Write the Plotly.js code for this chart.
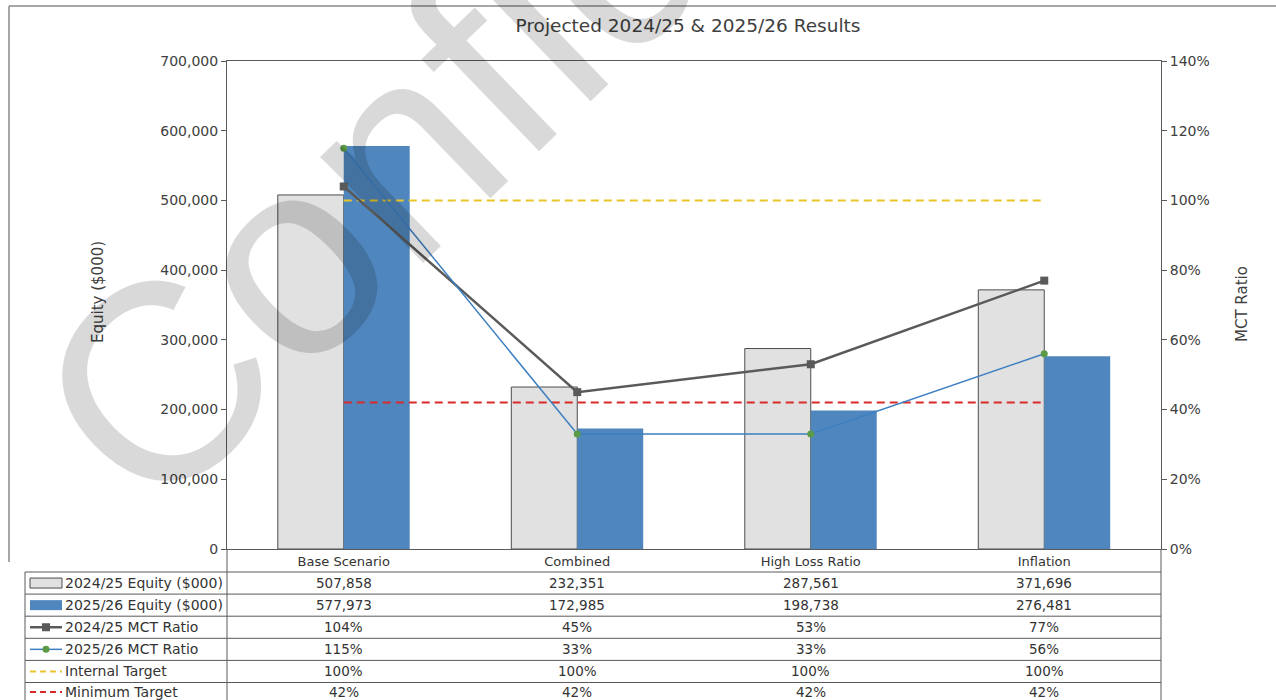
<!DOCTYPE html>
<html>
<head>
<meta charset="utf-8">
<script src="https://cdn.plot.ly/plotly-3.0.1.min.js"></script>
<style>html,body{margin:0;padding:0;background:#fff;}#chart{width:1276px;height:700px;}</style>
</head>
<body>
<div id="chart"></div>
<script>
// ---- data ----
const categories = ['Base Scenario', 'Combined', 'High Loss Ratio', 'Inflation'];
const equity2425 = [507858, 232351, 287561, 371696];
const equity2526 = [577973, 172985, 198738, 276481];
const mct2425 = [1.04, 0.45, 0.53, 0.77];
const mct2526 = [1.15, 0.33, 0.33, 0.56];
const internalTarget = [1.00, 1.00, 1.00, 1.00];
const minimumTarget = [0.42, 0.42, 0.42, 0.42];
const seriesNames = ['2024/25 Equity ($000)', '2025/26 Equity ($000)', '2024/25 MCT Ratio',
                     '2025/26 MCT Ratio', 'Internal Target', 'Minimum Target'];
const chartTitle = 'Projected 2024/25 & 2025/26 Results';
const leftTitle = 'Equity ($000)';
const rightTitle = 'MCT Ratio';
const watermark = 'Confidential';

// ---- layout helpers (pixel -> paper) ----
const W = 1276, H = 700;
const px = x => x / W;
const py = y => 1 - y / H;
const FONT = 'DejaVu Sans, sans-serif';
const TXT = '#404040';
const GRID = '#5a5a5a';

const cGray = '#e1e1e1', cBlue = '#4f86be', cLine1 = '#5a5a5a', cLine2 = '#3d7fc1',
      cMark2 = '#5b9b48', cYel = '#e9c52a', cRed = '#d92b2b';

const traces = [
  {type: 'bar', name: seriesNames[0], x: categories, y: equity2425,
   marker: {color: cGray, line: {color: '#4d4d4d', width: 1}}, yaxis: 'y'},
  {type: 'bar', name: seriesNames[1], x: categories, y: equity2526,
   marker: {color: cBlue, line: {width: 0}}, yaxis: 'y'},
  {type: 'scatter', mode: 'lines', name: seriesNames[4], x: categories, y: internalTarget,
   line: {color: cYel, width: 2, dash: '8px,5px'}, yaxis: 'y2'},
  {type: 'scatter', mode: 'lines', name: seriesNames[5], x: categories, y: minimumTarget,
   line: {color: cRed, width: 2, dash: '8px,5px'}, yaxis: 'y2'},
  {type: 'scatter', mode: 'lines+markers', name: seriesNames[2], x: categories, y: mct2425,
   line: {color: cLine1, width: 2.5}, marker: {symbol: 'square', size: 8, color: cLine1}, yaxis: 'y2'},
  {type: 'scatter', mode: 'lines+markers', name: seriesNames[3], x: categories, y: mct2526,
   line: {color: cLine2, width: 1.5}, marker: {symbol: 'circle', size: 7, color: cMark2}, yaxis: 'y2'}
];

// ---- table rows built from the series ----
const fmtEq = v => v.toLocaleString('en-US');
const fmtPct = v => Math.round(v * 100) + '%';
const tableRows = [
  equity2425.map(fmtEq), equity2526.map(fmtEq), mct2425.map(fmtPct),
  mct2526.map(fmtPct), internalTarget.map(fmtPct), minimumTarget.map(fmtPct)
];
const rowTop = 572, rowH = 22.1;
const rowCenter = i => rowTop + rowH * i + rowH / 2;

const annotations = [];
const shapes = [];

tableRows.forEach((row, i) => {
  const yc = py(rowCenter(i) - (i === 5 ? 1.5 : 0));
  row.forEach((t, j) => {
    annotations.push({xref: 'x', yref: 'paper', x: categories[j], y: yc,
      text: t, showarrow: false, xanchor: 'center', yanchor: 'middle',
      font: {family: FONT, size: 13.5, color: '#333'}});
  });
  annotations.push({xref: 'paper', yref: 'paper', x: px(63), y: yc,
    text: seriesNames[i], showarrow: false, xanchor: 'left', yanchor: 'middle',
    font: {family: FONT, size: 14, color: '#333'}});
});

// table grid
const line = (x0, y0, x1, y1, color, width, dash) => shapes.push({type: 'line', xref: 'paper', yref: 'paper',
  x0: px(x0), y0: py(y0), x1: px(x1), y1: py(y1), line: {color: color || GRID, width: width || 1, dash: dash || 'solid'}});
for (let i = 0; i < 6; i++) line(25, rowTop + rowH * i, 1161, rowTop + rowH * i);
line(25, rowTop, 25, 702);
line(227, 549, 227, 702);
line(1161, 549, 1161, 702);
// outer chart frame (partial)
line(9, 6, 1276, 6, '#8a8a8a', 1.5);
line(9, 6, 9, 562, '#8a8a8a', 1.5);

// legend keys in table
const keyX0 = 30, keyX1 = 62, keyXm = 46;
shapes.push({type: 'rect', xref: 'paper', yref: 'paper', x0: px(keyX0), x1: px(keyX1),
  y0: py(rowCenter(0) - 5), y1: py(rowCenter(0) + 5), fillcolor: cGray, line: {color: '#4d4d4d', width: 1}});
shapes.push({type: 'rect', xref: 'paper', yref: 'paper', x0: px(keyX0), x1: px(keyX1),
  y0: py(rowCenter(1) - 5), y1: py(rowCenter(1) + 5), fillcolor: cBlue, line: {width: 0}});
line(keyX0, rowCenter(2), keyX1, rowCenter(2), cLine1, 2.5);
shapes.push({type: 'rect', xref: 'paper', yref: 'paper', x0: px(keyXm - 4), x1: px(keyXm + 4),
  y0: py(rowCenter(2) - 4), y1: py(rowCenter(2) + 4), fillcolor: cLine1, line: {width: 0}});
line(keyX0, rowCenter(3), keyX1, rowCenter(3), cLine2, 1.5);
shapes.push({type: 'circle', xref: 'paper', yref: 'paper', x0: px(keyXm - 3.5), x1: px(keyXm + 3.5),
  y0: py(rowCenter(3) - 3.5), y1: py(rowCenter(3) + 3.5), fillcolor: cMark2, line: {width: 0}});
line(keyX0, rowCenter(4), keyX1, rowCenter(4), cYel, 2, '6px,4px');
line(keyX0, rowCenter(5) - 1.5, keyX1, rowCenter(5) - 1.5, cRed, 2, '6px,4px');

// axis titles
annotations.push({xref: 'paper', yref: 'paper', x: px(98), y: py(292), text: leftTitle, textangle: -90,
  showarrow: false, xanchor: 'center', yanchor: 'middle', font: {family: FONT, size: 15, color: TXT}});
annotations.push({xref: 'paper', yref: 'paper', x: px(1242), y: py(304), text: rightTitle, textangle: -90,
  showarrow: false, xanchor: 'center', yanchor: 'middle', font: {family: FONT, size: 15, color: TXT}});

// watermark
annotations.push({xref: 'paper', yref: 'paper', x: px(616), y: py(-58), text: watermark, textangle: -44,
  showarrow: false, xanchor: 'center', yanchor: 'middle',
  font: {family: 'Liberation Sans, Arial, sans-serif', size: 280, color: 'rgba(0,0,0,0.15)'}});

const layout = {
  width: W, height: H,
  margin: {l: 0, r: 0, t: 0, b: 0},
  paper_bgcolor: '#fff', plot_bgcolor: '#fff',
  showlegend: false,
  barmode: 'group', bargap: 0.435, bargroupgap: 0,
  title: {text: chartTitle, x: px(688), xanchor: 'center', y: py(26), yanchor: 'middle',
          font: {family: FONT, size: 18.5, color: TXT}},
  xaxis: {domain: [px(227), px(1161)], type: 'category', range: [-0.5, 3.5],
          showline: true, linecolor: GRID, linewidth: 1, mirror: true, ticks: '',
          showgrid: false, zeroline: false, fixedrange: true,
          tickfont: {family: FONT, size: 13, color: '#333'}},
  yaxis: {domain: [py(549), py(61)], range: [0, 700000], dtick: 100000, tickformat: ',d',
          showline: true, linecolor: GRID, linewidth: 1, ticks: 'outside', ticklen: 5,
          tickcolor: GRID, showgrid: false, zeroline: false,
          tickfont: {family: FONT, size: 14, color: TXT}},
  yaxis2: {overlaying: 'y', side: 'right', range: [0, 1.4], dtick: 0.2, tickformat: '.0%',
           showline: true, linecolor: GRID, linewidth: 1, ticks: 'outside', ticklen: 5,
           tickcolor: GRID, showgrid: false, zeroline: false,
           tickfont: {family: FONT, size: 14, color: TXT}},
  shapes: shapes,
  annotations: annotations
};

Plotly.newPlot('chart', traces, layout, {displayModeBar: false, staticPlot: true});
</script>
</body>
</html>
